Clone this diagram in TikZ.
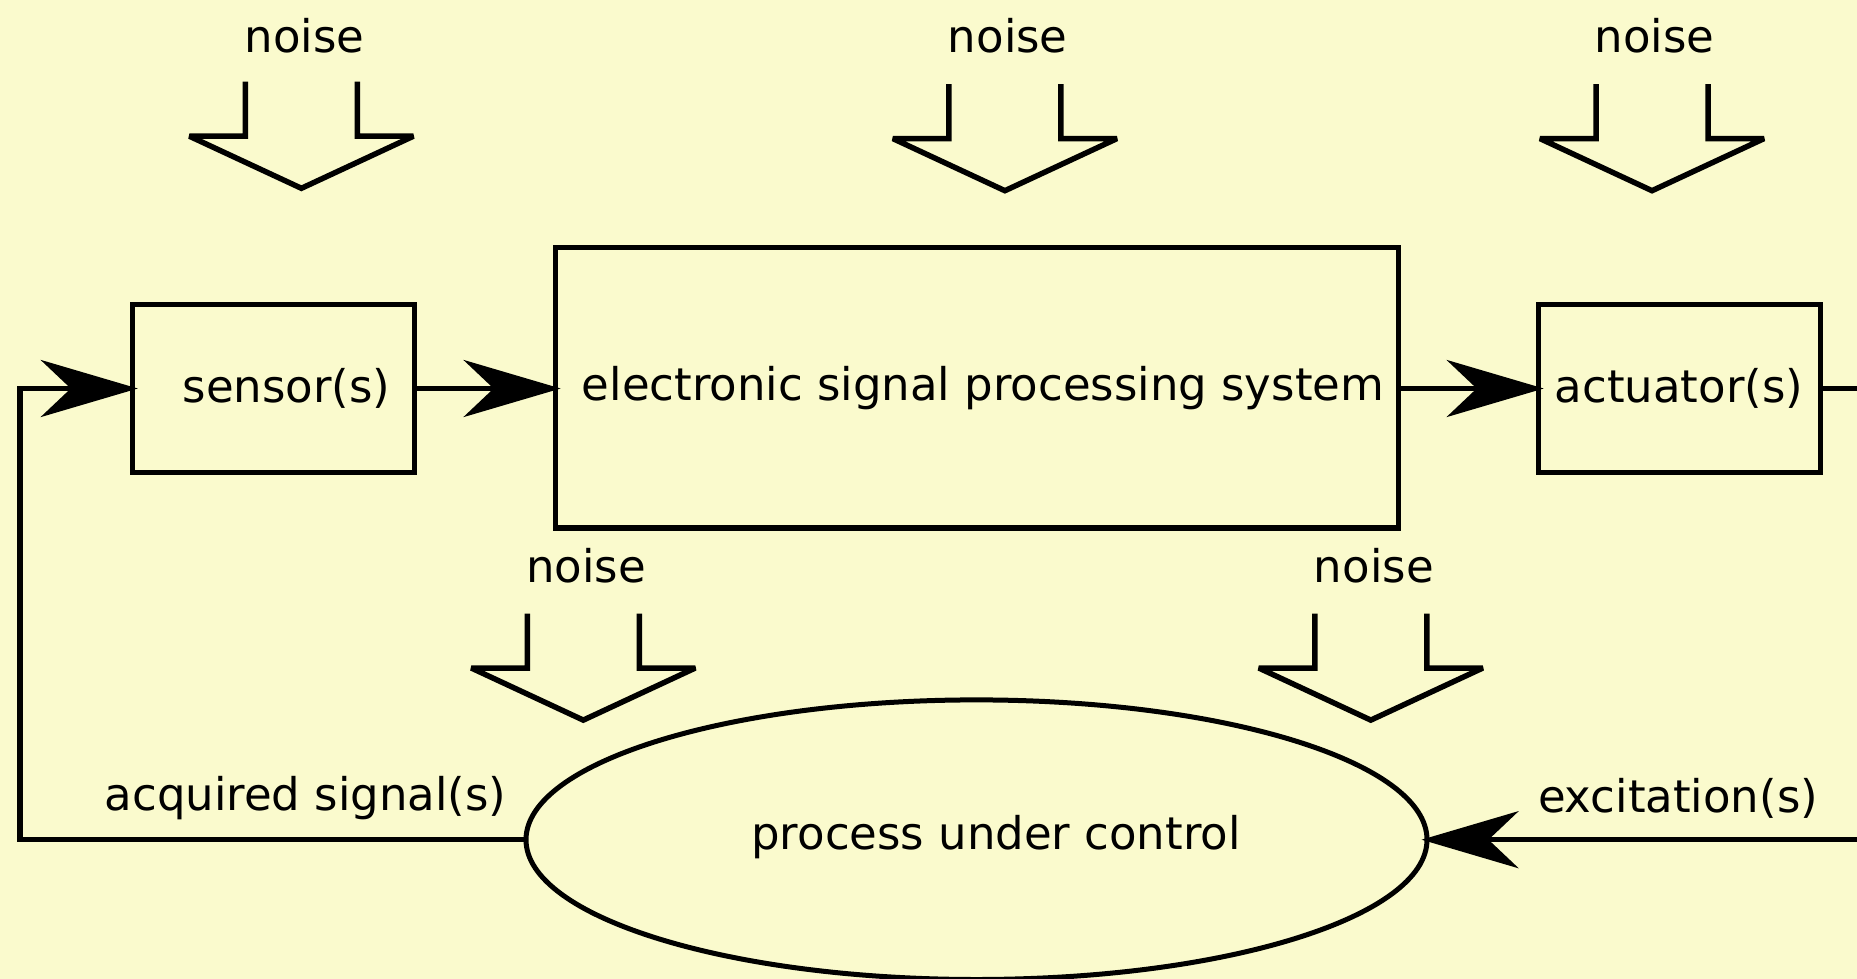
\documentclass[tikz,border=0pt]{standalone}
\usepackage{fontspec}
\setmainfont{DejaVu Sans}
\usetikzlibrary{arrows.meta,shapes.geometric}
\definecolor{bgyellow}{RGB}{250,250,205}
\tikzset{
  lw/.style={line width=5.5pt},
  blockbox/.style={draw, lw, inner sep=0pt, line join=miter},
  lbl/.style={inner sep=0pt, font=\fontsize{45}{54}\selectfont},
  arr/.style={lw, -{Stealth[length=97pt, width=57pt, inset=30pt]}, shorten >=-8pt},
  noisearr/.pic={
    \draw[lw, line join=miter, miter limit=2] (-56,0) -- (-56,54.5) -- (-112,54.5) -- (0,106.6) -- (112,54.5) -- (56,54.5) -- (56,0);
  }
}
\begin{document}
\begin{tikzpicture}[x=1pt,y=-1pt]
\fill[bgyellow] (0,0) rectangle (1857,979);
\useasboundingbox (0,0) rectangle (1857,979);

% blocks
\node[blockbox, minimum width=281.9pt, minimum height=168.1pt] (sensor) at (273.5,388.5) {};
\node[blockbox, minimum width=843.3pt, minimum height=280.7pt] (esp) at (977,387.8) {};
\node[blockbox, minimum width=281.9pt, minimum height=168.1pt] (act) at (1679.4,388.5) {};
\node[draw, ellipse, line width=5pt, inner sep=0pt, minimum width=901pt, minimum height=279.6pt] (proc) at (976.5,839.7) {};

% texts
\node[lbl] (tsensor) at (286.6,388.4) {sensor(s)};
\node[lbl] (tesp) at (983,388.4) {electronic signal processing system};
\node[lbl] (tact) at (1679,388.4) {actuator(s)};
\node[lbl] (tproc) at (996,837.4) {process under control};
\node[lbl] (tacq) at (305.5,798) {acquired signal(s)};
\node[lbl] (texc) at (1678,798) {excitation(s)};

% coordinates at edges
\coordinate (rtop) at (1857,388.5);
\coordinate (rbot) at (1857,839.7);
\coordinate (lcorner) at (20,839.7);

% connectors
\draw[arr] (sensor.east) -- (esp.west |- sensor.east);
\draw[arr] (esp.east |- act.west) -- (act.west);
\draw[lw] (act.east) -- (rtop);
\draw[arr] (rbot) -- (proc.east);
\draw[arr, line join=miter] (proc.west) -- (lcorner) |- (sensor.west);

% noise arrows
\pic at (301.4,81.7) {noisearr};
\pic at (1004.9,84.1) {noisearr};
\pic at (1652,84.1) {noisearr};
\pic at (583.3,613.5) {noisearr};
\pic at (1370.8,613.5) {noisearr};

\node[lbl] (n1) at (304.4,36.2) {noise};
\node[lbl] (n2) at (1007.8,36.2) {noise};
\node[lbl] (n3) at (1654.5,36.2) {noise};
\node[lbl] (n4) at (586.2,565.6) {noise};
\node[lbl] (n5) at (1373.8,565.6) {noise};
\end{tikzpicture}
\end{document}
